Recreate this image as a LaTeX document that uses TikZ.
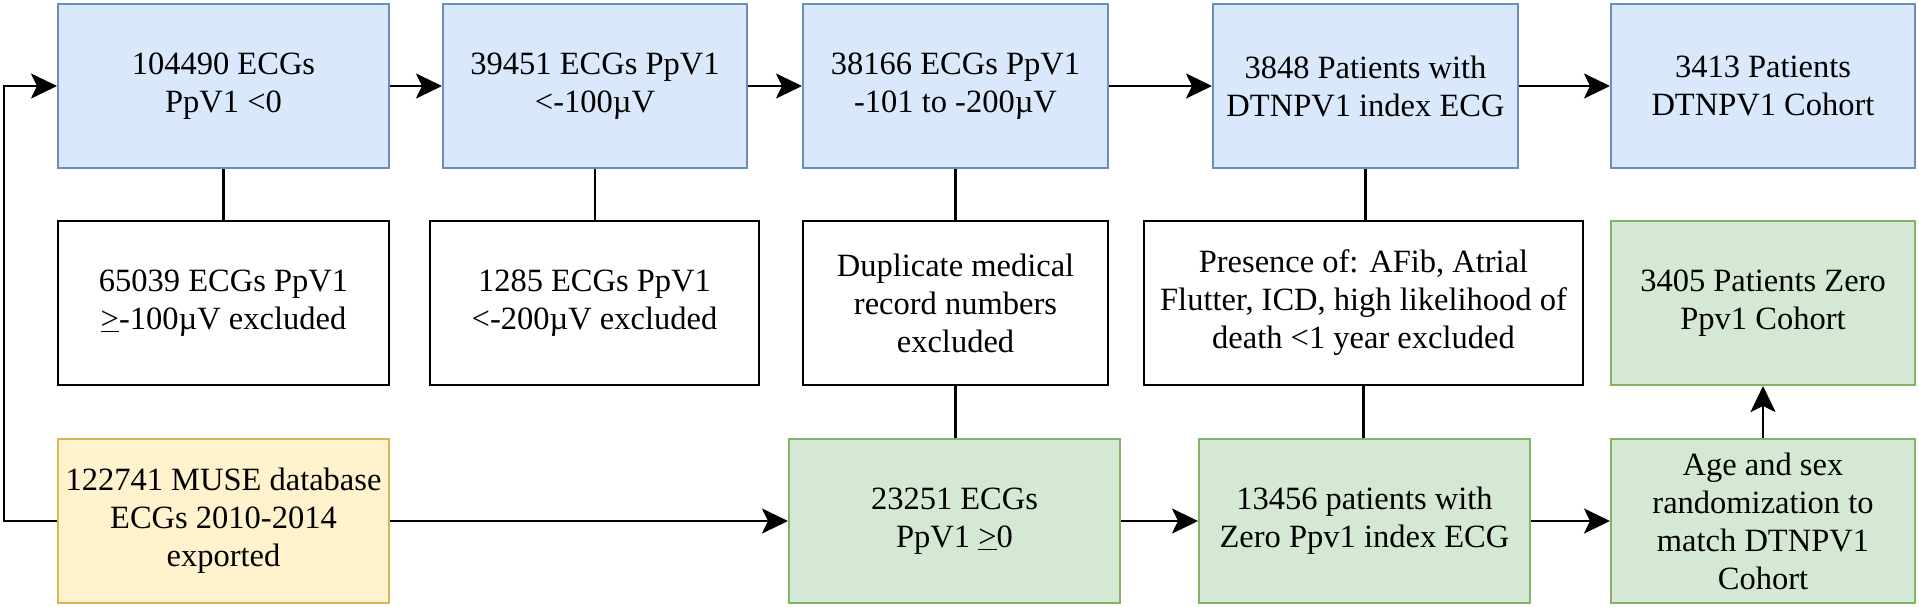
\documentclass[tikz,border=0pt]{standalone}
\usepackage{fontspec}
\setmainfont{Liberation Serif}
\usetikzlibrary{arrows.meta}
\definecolor{bfill}{HTML}{DAE8FC}
\definecolor{bline}{HTML}{6C8EBF}
\definecolor{gfill}{HTML}{D5E8D4}
\definecolor{gline}{HTML}{82B366}
\definecolor{yfill}{HTML}{FFF2CC}
\definecolor{yline}{HTML}{D6B656}
\tikzset{
  box/.style={rectangle, inner sep=0pt, minimum height=164pt, align=center,
    font=\fontsize{32.5}{38}\selectfont},
  bluebox/.style={box, fill=bfill, draw=bline, line width=2pt},
  greenbox/.style={box, fill=gfill, draw=gline, line width=2pt},
  yellowbox/.style={box, fill=yfill, draw=yline, line width=2pt},
  exclbox/.style={box, fill=white, draw=black, line width=2.5pt},
  conn/.style={draw=black, line width=2.6pt},
  arr/.style={conn, -{Stealth[length=26pt, width=25pt, inset=6pt]}}
}
\newcommand{\ugeq}{\underline{>}}
\begin{document}
\begin{tikzpicture}[x=1pt, y=-1pt]
\useasboundingbox (0,0) rectangle (1919,606);
% top row
\node[bluebox, minimum width=331pt] (b1) at (223.5,86) {104490 ECGs\\PpV1 <0};
\node[bluebox, minimum width=304pt] (b2) at (595,86) {39451 ECGs PpV1\\<-100µV};
\node[bluebox, minimum width=305pt] (b3) at (955.5,86) {38166 ECGs PpV1\\-101 to -200µV};
\node[bluebox, minimum width=305pt] (b4) at (1365.5,86) {3848 Patients with\\DTNPV1 index ECG};
\node[bluebox, minimum width=304pt] (b5) at (1763,86) {3413 Patients\\DTNPV1 Cohort};
% middle row
\node[exclbox, minimum width=331pt] (e1) at (223.5,303) {65039 ECGs PpV1\\\ugeq-100µV excluded};
\node[exclbox, minimum width=329pt] (e2) at (594.5,303) {1285 ECGs PpV1\\<-200µV excluded};
\node[exclbox, minimum width=305pt] (e3) at (955.5,303) {Duplicate medical\\record numbers\\excluded};
\node[exclbox, minimum width=439pt] (e4) at (1363.5,303) {Presence of: AFib, Atrial\\Flutter, ICD, high likelihood of\\death <1 year excluded};
\node[greenbox, minimum width=304pt] (z) at (1763,303) {3405 Patients Zero\\Ppv1 Cohort};
% bottom row
\node[yellowbox, minimum width=331pt] (muse) at (223.5,521) {122741 MUSE database\\ECGs 2010-2014\\exported};
\node[greenbox, minimum width=331pt] (g1) at (954.5,521) {23251 ECGs\\PpV1 \ugeq0};
\node[greenbox, minimum width=331pt] (g2) at (1364.5,521) {13456 patients with\\Zero Ppv1 index ECG};
\node[greenbox, minimum width=304pt] (age) at (1763,521) {Age and sex\\randomization to\\match DTNPV1\\Cohort};
\coordinate (lc) at (4,521);
% connectors
\draw[arr] (b1.east) -- (b2.west);
\draw[arr] (b2.east) -- (b3.west);
\draw[arr] (b3.east) -- (b4.west);
\draw[arr] (b4.east) -- (b5.west);
\draw[conn] (b1.south) -- (b1.south |- e1.north);
\draw[conn] (b2.south) -- (b2.south |- e2.north);
\draw[conn] (b3.south) -- (b3.south |- e3.north);
\draw[conn] (b4.south) -- (b4.south |- e4.north);
\draw[conn] (e3.south) -- (e3.south |- g1.north);
\draw[conn] (e4.south) -- (e4.south |- g2.north);
\draw[arr] (muse.west) -- (lc) |- (b1.west);
\draw[arr] (muse.east) -- (g1.west);
\draw[arr] (g1.east) -- (g2.west);
\draw[arr] (g2.east) -- (age.west);
\draw[arr] (age.north) -- (z.south);
\end{tikzpicture}
\end{document}
